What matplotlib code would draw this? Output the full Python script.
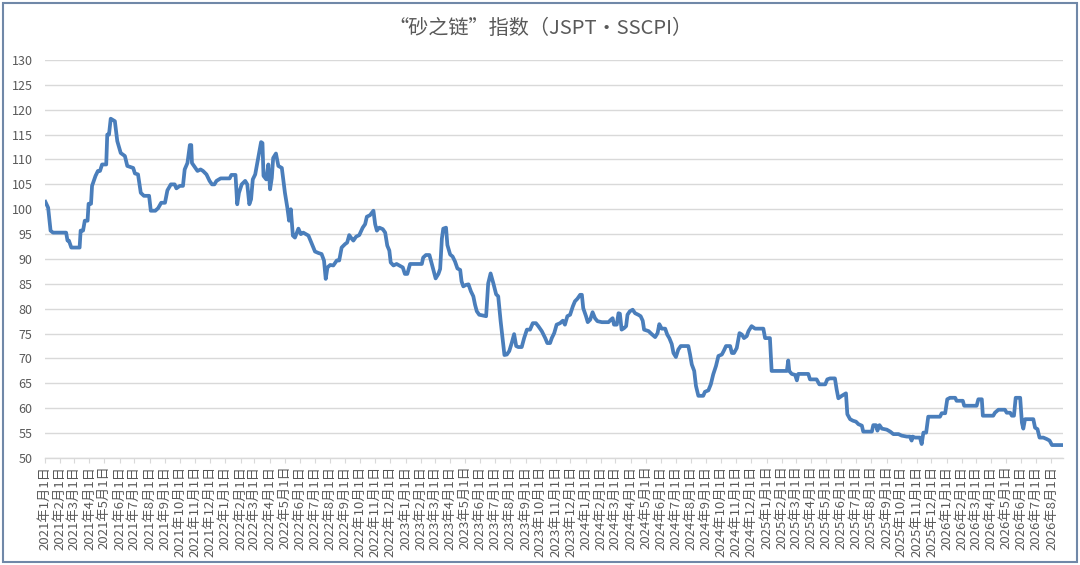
import numpy as np
import pandas as pd
import matplotlib.pyplot as plt
from matplotlib.patches import Rectangle

plt.rcParams['font.family'] = ['Noto Sans CJK SC', 'DejaVu Sans']

# ── Index data (week number since 2021-01-01, index value) ────────────────────

weeks = [
    0.1, 0.9, 1.6, 2.3, 6.1, 6.5, 6.9, 7.6, 10.0, 10.3, 11.0, 11.5, 12.3, 12.6,
    13.3, 13.6, 14.6, 15.3, 15.9, 16.5, 17.7, 18.0, 18.5, 19.0, 19.5, 20.2,
    20.9, 21.9, 23.1, 23.8, 25.5, 26.0, 26.9, 27.7, 28.6, 30.1, 30.6, 31.9,
    32.7, 33.6, 34.7, 35.4, 36.4, 37.5, 38.0, 39.0, 39.9, 40.4, 41.2, 41.9,
    42.3, 42.5, 43.5, 44.1, 45.0, 45.7, 46.7, 47.6, 48.3, 49.0, 49.6, 50.8,
    53.4, 53.9, 55.1, 55.6, 56.1, 56.9, 57.9, 58.5, 59.1, 59.6, 60.1, 60.8,
    61.4, 62.0, 62.5, 62.9, 63.2, 64.0, 64.6, 65.1, 65.6, 66.0, 66.8, 67.5,
    68.5, 69.4, 70.1, 70.6, 71.1, 71.7, 72.3, 73.3, 74.0, 74.7, 76.2, 77.2,
    78.1, 79.1, 80.0, 80.7, 81.2, 81.7, 82.5, 83.4, 84.4, 85.1, 85.8, 86.8,
    87.4, 88.0, 88.7, 89.2, 90.0, 90.9, 91.9, 92.6, 93.1, 94.0, 95.0, 95.5,
    96.0, 96.7, 97.7, 98.4, 99.0, 99.6, 100.0, 100.8, 101.7, 102.5, 103.5,
    104.1, 104.8, 105.6, 109.0, 109.4, 110.2, 111.2, 111.9, 112.3, 113.0,
    113.8, 114.3, 114.8, 115.2, 116.0, 116.4, 117.2, 117.9, 118.6, 119.3,
    120.1, 120.5, 121.0, 121.8, 122.5, 123.2, 123.9, 124.4, 124.9, 125.6,
    127.6, 128.2, 128.9, 129.7, 130.5, 131.1, 131.8, 132.4, 132.9, 133.6,
    134.3, 135.0, 135.7, 136.3, 136.9, 137.9, 138.6, 139.4, 140.3, 141.1,
    142.0, 142.7, 143.7, 144.7, 145.3, 146.1, 146.6, 147.3, 148.0, 149.0,
    149.8, 150.4, 151.1, 151.9, 152.7, 153.3, 154.0, 154.8, 155.3, 155.7,
    156.5, 157.0, 157.7, 158.4, 159.1, 159.8, 161.1, 163.0, 163.7, 164.2,
    164.6, 165.4, 165.9, 166.3, 166.8, 167.5, 168.1, 168.5, 169.2, 170.0,
    170.7, 171.6, 172.3, 172.9, 173.3, 174.6, 175.5, 176.5, 177.2, 177.7,
    178.4, 179.4, 180.0, 180.6, 181.3, 181.8, 182.5, 183.2, 183.9, 186.1,
    186.6, 187.1, 187.8, 188.3, 189.0, 190.4, 190.9, 191.9, 192.6, 193.3,
    194.1, 194.8, 195.8, 196.4, 197.0, 198.2, 198.7, 199.3, 200.1, 200.9,
    201.6, 202.2, 203.0, 203.5, 204.4, 205.4, 207.8, 208.3, 209.7, 210.2,
    214.6, 215.0, 215.3, 216.0, 217.0, 217.5, 217.9, 220.8, 221.3, 223.2,
    224.0, 225.7, 226.3, 227.1, 228.5, 229.0, 229.5, 230.5, 231.7, 232.1,
    232.9, 233.7, 234.6, 235.3, 236.3, 236.7, 239.2, 239.6, 240.4, 240.8,
    241.4, 242.1, 243.5, 244.5, 245.4, 246.9, 247.8, 249.3, 250.2, 250.7,
    251.0, 251.7, 253.1, 253.6, 254.1, 254.9, 255.5, 258.9, 259.4, 260.4,
    261.0, 261.8, 263.3, 263.7, 265.5, 265.9, 269.5, 270.0, 271.0, 271.3,
    274.3, 274.8, 275.8, 277.7, 278.2, 279.2, 279.7, 280.3, 280.8, 282.1,
    282.6, 283.0, 283.5, 285.9, 286.4, 287.1, 287.7, 288.8, 289.8, 290.6,
    291.3, 294.2,
]

values = [
    101.5, 100.3, 95.7, 95.3, 95.3, 93.7, 93.7, 92.3, 92.3, 95.7, 95.7, 97.7,
    97.7, 101.1, 101.1, 104.7, 106.7, 107.7, 107.7, 109.0, 109.0, 115.0, 115.0,
    118.2, 118.0, 117.7, 113.7, 111.3, 110.7, 108.7, 108.3, 107.2, 107.0,
    103.3, 102.7, 102.7, 99.7, 99.7, 100.2, 101.3, 101.3, 103.8, 105.0, 105.0,
    104.2, 104.7, 104.7, 108.0, 109.3, 112.9, 112.9, 109.3, 108.3, 107.7,
    108.0, 107.7, 107.0, 105.7, 105.0, 105.0, 105.7, 106.2, 106.2, 106.9,
    106.9, 101.0, 103.3, 105.0, 105.7, 105.0, 101.0, 102.0, 106.0, 107.0,
    109.3, 111.7, 113.5, 113.3, 106.7, 106.0, 109.0, 104.0, 106.3, 110.3,
    111.2, 108.7, 108.3, 103.3, 100.3, 97.7, 100.0, 94.7, 94.3, 96.1, 95.0,
    95.3, 94.7, 93.0, 91.5, 91.2, 91.0, 89.7, 86.0, 88.3, 88.8, 88.7, 89.7,
    89.7, 92.3, 93.0, 93.3, 94.8, 94.1, 93.7, 94.5, 94.8, 96.3, 97.0, 98.5,
    98.8, 99.7, 97.0, 95.7, 96.3, 96.0, 95.3, 92.7, 91.7, 89.3, 88.7, 89.0,
    88.7, 88.3, 87.0, 87.0, 89.0, 89.0, 90.3, 90.8, 90.8, 89.0, 88.0, 86.1,
    87.0, 88.0, 94.1, 96.1, 96.3, 92.8, 90.9, 90.5, 89.5, 88.1, 87.8, 85.5,
    84.5, 84.8, 84.9, 83.5, 82.5, 80.8, 79.5, 78.8, 78.5, 85.1, 87.1, 85.1,
    82.9, 82.5, 77.5, 73.8, 70.7, 70.8, 71.5, 73.1, 74.9, 72.5, 72.3, 72.3,
    74.1, 75.8, 75.8, 77.1, 77.1, 76.5, 75.5, 74.1, 73.1, 73.1, 74.1, 75.1,
    76.8, 77.1, 77.6, 76.8, 78.5, 78.8, 80.5, 81.5, 82.0, 82.8, 82.8, 80.1,
    78.5, 77.3, 77.8, 79.3, 78.1, 77.5, 77.3, 77.3, 77.8, 78.1, 76.8, 76.8,
    79.1, 79.0, 75.8, 76.1, 76.5, 78.8, 79.5, 79.8, 79.1, 78.8, 78.5, 77.6,
    75.8, 75.5, 74.9, 74.3, 75.1, 76.9, 76.0, 76.0, 74.8, 74.1, 72.9, 71.1,
    70.3, 71.8, 72.5, 72.5, 70.8, 68.8, 67.5, 64.5, 62.5, 62.5, 63.3, 63.6,
    64.8, 66.8, 68.5, 70.5, 70.8, 71.6, 72.5, 72.5, 71.1, 71.1, 72.1, 75.1,
    74.8, 74.1, 74.5, 75.5, 76.5, 76.0, 76.0, 74.1, 74.1, 67.5, 67.5, 69.6,
    67.5, 66.9, 66.7, 65.6, 66.9, 66.9, 65.8, 65.8, 64.8, 64.8, 65.8, 66.0,
    66.0, 63.8, 62.0, 62.5, 63.0, 58.8, 57.8, 57.5, 57.3, 56.8, 56.5, 55.3,
    55.3, 56.6, 56.6, 55.5, 56.6, 55.9, 55.7, 55.3, 54.8, 54.8, 54.5, 54.3,
    54.3, 53.5, 54.3, 54.1, 54.1, 52.8, 55.1, 55.1, 58.3, 58.3, 59.0, 59.0,
    61.8, 62.1, 62.1, 61.5, 61.5, 60.5, 60.5, 61.8, 61.8, 58.5, 58.5, 59.1,
    59.7, 59.7, 59.1, 59.1, 58.5, 58.5, 62.1, 62.1, 57.1, 55.9, 57.8, 57.8,
    56.1, 55.8, 54.1, 54.1, 53.8, 53.5, 52.6, 52.6,
]

start_date = '2021-01-01'
month_ticks = pd.date_range('2021-01-01', '2026-08-01', freq='MS')
tick_labels = [f'{d.year}年{d.month}月1日' for d in month_ticks]
y_ticks = list(range(50, 131, 5))

dates = pd.Timestamp(start_date) + pd.to_timedelta(np.array(weeks) * 7, unit='D')

# ── Figure ────────────────────────────────────────────────────────────────────

fig = plt.figure(figsize=(10.8, 5.65), dpi=100)
ax = fig.add_axes([0.0417, 0.1894, 0.9426, 0.7044])

ax.plot(dates, values, color='#4a7ebb', linewidth=2.7, solid_joinstyle='round')

ax.set_ylim(50, 130)
ax.set_yticks(y_ticks)
ax.set_xlim(pd.Timestamp(start_date),
            pd.Timestamp(start_date) + pd.Timedelta(days=294.5 * 7))
ax.set_xticks(month_ticks)
ax.set_xticklabels(tick_labels, rotation=90, fontsize=9.5, color='#595959')

ax.grid(axis='y', color='#d9d9d9', linewidth=1.0)
ax.set_axisbelow(True)
ax.spines[['top', 'right', 'left']].set_visible(False)
ax.spines['bottom'].set_color('#d9d9d9')
ax.spines['bottom'].set_linewidth(1.0)
ax.tick_params(axis='y', length=0, pad=9, labelsize=9, labelcolor='#595959')
ax.tick_params(axis='x', length=3.5, width=0.8, color='#d9d9d9', pad=2)

fig.text(0.5, 1 - 28 / 565, '“砂之链”指数（JSPT•SSCPI）',
         ha='center', va='center', fontsize=14.5, color='#595959')

fig.patches.append(Rectangle((3 / 1080, 3 / 565), 1074 / 1080, 559 / 565,
                             transform=fig.transFigure, fill=False,
                             edgecolor='#7088a8', linewidth=1.5))

fig.savefig('out.png', dpi=100)
